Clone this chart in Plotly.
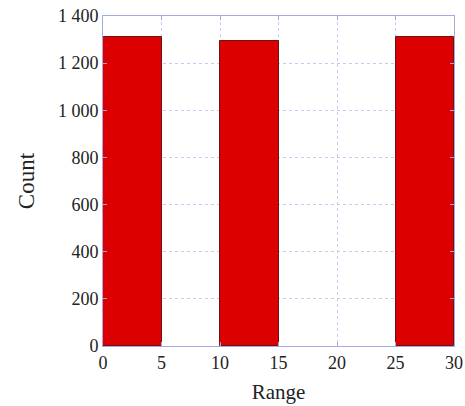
import plotly.graph_objects as go

bin_left = [0, 10, 25]
bin_width = [5, 5, 5]
counts = [1311, 1294, 1311]
x_ticks = [0, 5, 10, 15, 20, 25, 30]
y_ticks = [0, 200, 400, 600, 800, 1000, 1200, 1400]

centers = [l + w / 2 for l, w in zip(bin_left, bin_width)]

fig = go.Figure()
fig.add_trace(go.Bar(
    x=centers, y=counts, width=bin_width,
    marker=dict(color="#dd0000", line=dict(color="#6a1414", width=1)),
    showlegend=False,
))

axis_common = dict(
    showline=True, linecolor="#a8a8e0", linewidth=1, mirror="ticks",
    ticks="inside", ticklen=4, tickcolor="#a8a8e0",
    showgrid=True, gridcolor="#cacaf0", griddash="dot", gridwidth=1,
    zeroline=False,
    tickfont=dict(family="Liberation Serif", size=18, color="#222222"),
)

fig.update_layout(
    width=465, height=406,
    margin=dict(l=103, r=11, t=16, b=60, autoexpand=False),
    paper_bgcolor="white", plot_bgcolor="white",
    separators=". ",
    bargap=0,
    xaxis=dict(range=[0, 30], tickvals=x_ticks,
               title=dict(text="Range", font=dict(family="Liberation Serif", size=21, color="#222222"), standoff=12),
               **axis_common),
    yaxis=dict(range=[0, 1400], tickvals=y_ticks, tickformat=",d",
               title=dict(text="Count", font=dict(family="Liberation Serif", size=23, color="#222222"), standoff=16),
               **axis_common),
)

fig.write_html("out.html", config={"displayModeBar": False},
               post_script="document.body.style.margin='0';")
